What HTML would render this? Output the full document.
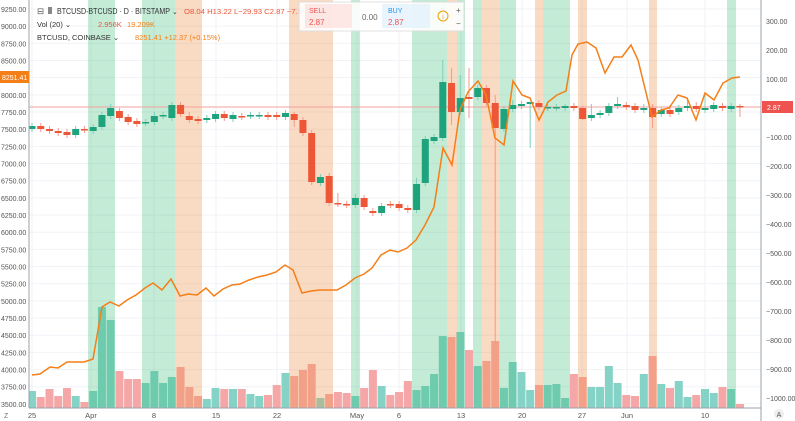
<!DOCTYPE html>
<html><head><meta charset="utf-8"><style>
html,body{margin:0;padding:0;background:#fff;width:795px;height:421px;overflow:hidden;font-family:"Liberation Sans",sans-serif}
svg{position:absolute;left:0;top:0}
</style></head><body>
<svg id="s" width="795" height="421" xmlns="http://www.w3.org/2000/svg" font-family="Liberation Sans, sans-serif"></svg>
<script>
const s=document.getElementById('s');let h='';
const X=d=>32+8.74*d;
for(let i=0;i<24;i++){const y=9+i*17.17;h+=`<line x1="29" x2="761" y1="${y}" y2="${y}" stroke="#f0f3f7" stroke-width="1"/>`;}
[32,91,154,216,277,357,399,461,522,582,627,705].forEach(x=>h+=`<line x1="${x}" x2="${x}" y1="0" y2="408" stroke="#eef2f6"/>`);
const vol=[[391,1],[397,0],[389,0],[396,0],[388,0],[396,1],[402,0],[391,1],[307,1],[320,1],[371,0],[379,0],[379,0],[383,1],[371,1],[383,1],[377,1],[367,0],[387,0],[396,0],[399,1],[388,1],[389,0],[389,1],[389,0],[394,1],[396,1],[395,0],[385,0],[373,1],[376,0],[370,0],[364,0],[398,1],[394,0],[392,0],[393,0],[396,1],[388,0],[370,0],[386,1],[395,0],[392,0],[381,0],[390,1],[386,1],[374,1],[336,1],[337,0],[332,1],[350,0],[366,1],[361,0],[341,0],[388,1],[362,1],[372,1],[390,1],[385,0],[385,1],[384,1],[398,1],[374,0],[377,0],[387,1],[387,1],[366,1],[383,1],[395,0],[396,0],[374,1],[356,0],[384,1],[388,0],[381,1],[397,1],[395,0],[389,1],[393,1],[387,0],[389,1],[404,0]];
vol.forEach((v,d)=>{h+=`<rect x="${X(d)-4}" y="${v[0]}" width="8" height="${408-v[0]}" fill="${v[1]?'#85d2c6':'#f5a6a6'}"/>`;});
const g=[[88,115],[142,175],[351,360],[412,447],[457,465],[473,482],[500,516],[543,570],[727,736]];
const o=[[175,202],[289,333],[447,457],[482,500],[535,543],[578,587],[649,657]];
g.forEach(b=>h+=`<rect x="${b[0]}" y="0" width="${b[1]-b[0]}" height="408" fill="rgba(60,190,120,0.3)"/>`);
o.forEach(b=>h+=`<rect x="${b[0]}" y="0" width="${b[1]-b[0]}" height="408" fill="rgba(238,150,80,0.35)"/>`);
h+=`<line x1="29" x2="761" y1="107" y2="107" stroke="#f3a0a0" stroke-width="1"/>`;
const c=[[126,129,1],[126,129,0],[129,131,0],[131,133,0],[132,135,0],[129,135,1],[129,130,0],[127,131,1],[115,127,1],[108,116,1,104],[111,118,0],[117,122,0],[121,124,0],[122,123,1],[116,122,1,112],[115,116,1],[105,118,1],[105,114,0],[116,120,0,112],[119,121,0],[118,120,1],[114,119,1],[114,118,0],[115,119,1],[116,117,0],[115,116,1],[115,116,1],[115,117,0],[115,117,0],[113,117,1],[114,120,0,112,127],[120,133,0],[133,182,0],[177,183,1],[176,203,0],[203,204,0,193],[204,205,0],[198,205,1,194],[198,207,0],[211,213,0],[206,213,1],[204,205,0],[204,208,0],[208,210,0],[184,210,1,178],[139,183,1],[137,141,1],[82,138,1,60],[83,112,0,68,125],[98,112,1,75],[97,99,0,68,118],[88,97,1],[88,103,0],[103,128,0,95,345],[109,129,1],[105,109,1,100],[104,106,1],[102,104,1,102,148],[103,107,0],[107,108,1],[107,108,1],[106,108,1,104],[106,108,0],[108,119,0,106,120],[115,118,1,104],[113,115,1],[106,113,1],[104,106,1,97],[105,107,0],[106,110,0],[108,110,1,104],[108,117,0,104,128],[110,114,1],[110,114,0],[108,112,1],[106,108,1,100],[106,109,0,102],[108,110,1,94],[105,109,1],[106,108,0],[106,109,1,103],[106,107,0,104,117]];
c.forEach((k,d)=>{const x=X(d),col=k[2]?'#1ea37d':'#ee5638';const wt=k[3]||k[0]-3,wb=k[4]||k[1]+3;
h+=`<line x1="${x}" x2="${x}" y1="${wt}" y2="${wb}" stroke="${k[2]?'#7fcfb9':'#f59a8c'}"/>`;
h+=`<rect x="${x-3.5}" y="${k[0]}" width="7" height="${Math.max(1.5,k[1]-k[0])}" fill="${col}"/>`;});
const p=[[32,375],[40,374],[50,367],[58,368],[67,362],[84,362],[93,359],[102,307],[110,302],[119,306],[127,300],[136,295],[145,288],[153,283],[162,290],[171,279],[180,296],[188,294],[197,295],[206,288],[214,296],[223,289],[232,285],[240,284],[249,280],[258,277],[267,275],[276,272],[285,265],[293,270],[302,293],[311,291],[320,290],[329,290],[337,290],[346,285],[355,278],[364,274],[372,268],[381,255],[390,250],[398,252],[407,248],[416,240],[425,225],[434,207],[443,148],[452,165],[460,110],[468,92],[478,81],[486,95],[495,138],[504,145],[513,81],[522,95],[530,98],[539,120],[548,102],[557,95],[566,91],[572,55],[578,44],[587,42],[596,48],[605,73],[614,57],[622,57],[631,45],[638,60],[652,117],[661,110],[669,108],[678,95],[687,98],[696,120],[705,93],[714,100],[723,83],[732,78],[740,77]];
h+=`<polyline fill="none" stroke="#f57f17" stroke-width="1.5" points="${p.map(q=>q.join(',')).join(' ')}"/>`;
h+=`<rect x="0" y="0" width="29" height="421" fill="#fff"/><rect x="761" y="0" width="34" height="421" fill="#fff"/><rect x="0" y="408" width="795" height="13" fill="#fff"/>`;
h+=`<line x1="29" x2="29" y1="0" y2="408" stroke="#9aa3ad"/><line x1="761" x2="761" y1="0" y2="421" stroke="#9aa3ad"/><line x1="29" x2="761" y1="408" y2="408" stroke="#9aa3ad"/>`;
for(let i=0;i<24;i++){const v=9250-250*i,y=9+i*17.17;h+=`<text x="1" y="${y+3}" font-size="7" fill="#555">${v.toFixed(2)}</text>`;}
for(let i=0;i<14;i++){const v=300-100*i,y=21+i*29;h+=`<text x="766" y="${y+3}" font-size="7" fill="#555">${v>0?v.toFixed(2):(v==0?'0.00':'\u2212'+(-v).toFixed(2))}</text>`;}
h+=`<rect x="0" y="71" width="29" height="12" fill="#f57f17"/><text x="2" y="80" font-size="7" fill="#fff">8251.41</text>`;
h+=`<rect x="762" y="101" width="31" height="12" fill="#ef5350"/><text x="767" y="110" font-size="7" fill="#fff">2.87</text>`;
[[32,'25'],[91,'Apr'],[154,'8'],[216,'15'],[277,'22'],[357,'May'],[399,'6'],[461,'13'],[522,'20'],[582,'27'],[627,'Jun'],[705,'10']].forEach(t=>h+=`<text x="${t[0]}" y="418" font-size="7.5" fill="#555" text-anchor="middle">${t[1]}</text>`);
h+=`<text x="4" y="418" font-size="7" fill="#777">Z</text><circle cx="779" cy="414" r="5" fill="#eee"/><text x="779" y="417" font-size="7" fill="#555" text-anchor="middle">A</text>`;
h+=`<text x="37" y="14" font-size="8.5" fill="#555">⊟</text><rect x="48" y="7" width="4" height="7" fill="#888"/><text x="57" y="14" font-size="8.5" fill="#333" textLength="113" lengthAdjust="spacingAndGlyphs">BTCUSD-BTCUSD · D · BITSTAMP</text><text x="172" y="14" font-size="7" fill="#333">⌄</text>`;
h+=`<text x="184" y="14" font-size="7.5" fill="#ee5638" textLength="118" lengthAdjust="spacingAndGlyphs">O8.04  H13.22  L−29.93  C2.87  −7.1</text>`;
h+=`<text x="37" y="27" font-size="7.5" fill="#333">Vol (20) ⌄</text><text x="98" y="27" font-size="7.5" fill="#ee5638">2.956K</text><text x="127" y="27" font-size="7.5" fill="#f57f17">19.209K</text>`;
h+=`<text x="37" y="40" font-size="7.5" fill="#333">BTCUSD, COINBASE ⌄</text><text x="135" y="40" font-size="7.5" fill="#f57f17">8251.41  +12.37 (+0.15%)</text>`;
h+=`<rect x="299" y="2" width="165" height="29" fill="#fff" stroke="#ddd" opacity="0.9"/><rect x="305" y="4" width="47" height="24" fill="#fde2e0" opacity="0.8"/><rect x="382" y="4" width="48" height="24" fill="#e4f1fd" opacity="0.8"/>`;
h+=`<text x="309" y="13" font-size="7" fill="#ef5350">SELL</text><text x="309" y="25" font-size="8" fill="#ef5350">2.87</text><text x="362" y="20" font-size="8" fill="#666">0.00</text><text x="388" y="13" font-size="7" fill="#2196f3">BUY</text><text x="388" y="25" font-size="8" fill="#ef5350">2.87</text>`;
h+=`<circle cx="443" cy="16" r="5" fill="none" stroke="#e8a000"/><text x="443" y="19" font-size="7" fill="#e8a000" text-anchor="middle">i</text><text x="456" y="13" font-size="8" fill="#555">+</text><text x="456" y="26" font-size="8" fill="#555">−</text>`;
s.innerHTML=h;
</script>
</body></html>
